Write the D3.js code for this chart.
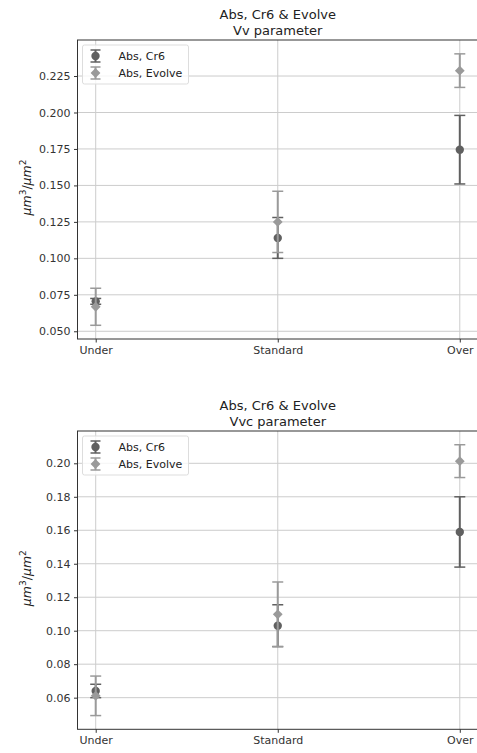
<!DOCTYPE html>
<html>
<head>
<meta charset="utf-8">
<script src="https://cdn.jsdelivr.net/npm/d3@7"></script>
<style>
  body { margin: 0; background: #fff; }
  svg { font-family: "DejaVu Sans", sans-serif; }
</style>
</head>
<body>
<script>
// categories and series
var categories = ["Under", "Standard", "Over"];
var seriesNames = ["Abs, Cr6", "Abs, Evolve"];

// Vv parameter
var vvCr6 = [0.0705, 0.114, 0.1745];
var vvCr6Err = [0.002, 0.014, 0.0235];
var vvEvolve = [0.0668, 0.125, 0.2287];
var vvEvolveErr = [0.0127, 0.021, 0.0115];
var vvTicks = [0.050, 0.075, 0.100, 0.125, 0.150, 0.175, 0.200, 0.225];

// Vvc parameter
var vvcCr6 = [0.064, 0.103, 0.159];
var vvcCr6Err = [0.004, 0.0125, 0.021];
var vvcEvolve = [0.0611, 0.1098, 0.2013];
var vvcEvolveErr = [0.0118, 0.0193, 0.0098];
var vvcTicks = [0.06, 0.08, 0.10, 0.12, 0.14, 0.16, 0.18, 0.20];

var W = 477, H = 753;
var colCr6 = "#606060", colEvolve = "#9a9a9a";
var circleSize = 55, diamondSize = 48;

var svg = d3.select("body").append("svg")
  .attr("width", W).attr("height", H);

function panel(opts) {
  var left = 77.5, right = 478, top = opts.top, bottom = opts.bottom;

  var x = d3.scaleLinear().domain([-0.1, 2.1]).range([left, right]);
  var y = d3.scaleLinear().domain(opts.yDomain).range([bottom, top]);

  var g = svg.append("g");

  // grid
  g.append("g").selectAll("line").data(opts.ticks).enter().append("line")
    .attr("x1", left).attr("x2", right)
    .attr("y1", d => y(d)).attr("y2", d => y(d))
    .attr("stroke", "#cccccc").attr("stroke-width", 1);
  g.append("g").selectAll("line").data(categories).enter().append("line")
    .attr("x1", (d, i) => x(i)).attr("x2", (d, i) => x(i))
    .attr("y1", top).attr("y2", bottom)
    .attr("stroke", "#cccccc").attr("stroke-width", 1);

  // axes
  var yAxis = d3.axisLeft(y).tickValues(opts.ticks)
    .tickFormat(d3.format(opts.fmt)).tickSize(3.5).tickPadding(3.5);
  var gy = g.append("g").attr("transform", "translate(" + left + ",0)").call(yAxis);
  var xAxis = d3.axisBottom(x).tickValues([0, 1, 2])
    .tickFormat(i => categories[i]).tickSize(3.5).tickPadding(3.5);
  var gx = g.append("g").attr("transform", "translate(0," + bottom + ")").call(xAxis);
  [gx, gy].forEach(function (a) {
    a.select(".domain").remove();
    a.selectAll("line").attr("stroke", "#333");
    a.selectAll("text").attr("fill", "#333").style("font-size", "11px")
      .style("font-family", "DejaVu Sans");
  });

  // frame
  g.append("rect").attr("x", left).attr("y", top)
    .attr("width", right - left).attr("height", bottom - top)
    .attr("fill", "none").attr("stroke", "#333").attr("stroke-width", 1);

  // errorbars
  function errorbars(vals, errs, col, shape) {
    var s = g.append("g");
    vals.forEach(function (v, i) {
      var cx = x(i);
      s.append("line").attr("x1", cx).attr("x2", cx)
        .attr("y1", y(v - errs[i])).attr("y2", y(v + errs[i]))
        .attr("stroke", col).attr("stroke-width", 2);
      [v - errs[i], v + errs[i]].forEach(function (e) {
        s.append("line").attr("x1", cx - 5.5).attr("x2", cx + 5.5)
          .attr("y1", y(e)).attr("y2", y(e))
          .attr("stroke", col).attr("stroke-width", 1.5);
      });
    });
    s.selectAll("path").data(vals).enter().append("path")
      .attr("d", d3.symbol().type(shape).size(shape === d3.symbolCircle ? circleSize : diamondSize))
      .attr("transform", (d, i) => "translate(" + x(i) + "," + y(d) + ")" +
        (shape === d3.symbolSquare ? " rotate(45)" : ""))
      .attr("fill", col);
  }
  errorbars(opts.cr6, opts.cr6Err, colCr6, d3.symbolCircle);
  errorbars(opts.evolve, opts.evolveErr, colEvolve, d3.symbolSquare);

  // title
  var tt = g.append("text").attr("text-anchor", "middle")
    .attr("x", (left + right) / 2).attr("fill", "#222").style("font-size", "13px");
  tt.append("tspan").attr("x", (left + right) / 2).attr("y", top - 21).text("Abs, Cr6 & Evolve");
  tt.append("tspan").attr("x", (left + right) / 2).attr("y", top - 5).text(opts.name + " parameter");

  // y label
  var yl = g.append("text")
    .attr("transform", "translate(31," + ((top + bottom) / 2 - 2) + ") rotate(-90)")
    .attr("text-anchor", "middle").attr("fill", "#222")
    .style("font-size", "12.5px").style("font-style", "italic");
  yl.append("tspan").text("μm");
  yl.append("tspan").attr("dy", -5).style("font-size", "9px").style("font-style", "normal").text("3");
  yl.append("tspan").attr("dy", 5).style("font-style", "normal").text("/");
  yl.append("tspan").text("μm");
  yl.append("tspan").attr("dy", -5).style("font-size", "9px").style("font-style", "normal").text("2");

  // legend
  var lg = g.append("g").attr("transform", "translate(" + (left + 5) + "," + (top + 5) + ")");
  lg.append("rect").attr("width", 106).attr("height", 39).attr("rx", 2)
    .attr("fill", "#fff").attr("fill-opacity", 0.8)
    .attr("stroke", "#dddddd");
  seriesNames.forEach(function (name, i) {
    var col = i === 0 ? colCr6 : colEvolve;
    var cy = 11 + i * 17, cx = 13;
    lg.append("line").attr("x1", cx).attr("x2", cx).attr("y1", cy - 6).attr("y2", cy + 6)
      .attr("stroke", col).attr("stroke-width", 2);
    [cy - 6, cy + 6].forEach(function (e) {
      lg.append("line").attr("x1", cx - 5).attr("x2", cx + 5).attr("y1", e).attr("y2", e)
        .attr("stroke", col).attr("stroke-width", 1.5);
    });
    lg.append("path")
      .attr("d", d3.symbol().type(i === 0 ? d3.symbolCircle : d3.symbolSquare).size(i === 0 ? circleSize : diamondSize))
      .attr("transform", "translate(" + cx + "," + cy + ")" + (i === 1 ? " rotate(45)" : ""))
      .attr("fill", col);
    lg.append("text").attr("x", 36).attr("y", cy + 4).attr("fill", "#222")
      .style("font-size", "11px").text(name);
  });
}

panel({ name: "Vv", top: 40, bottom: 339, yDomain: [0.0447, 0.2497], ticks: vvTicks, fmt: ".3f",
  cr6: vvCr6, cr6Err: vvCr6Err, evolve: vvEvolve, evolveErr: vvEvolveErr });
panel({ name: "Vvc", top: 431, bottom: 729.3, yDomain: [0.0411, 0.2193], ticks: vvcTicks, fmt: ".2f",
  cr6: vvcCr6, cr6Err: vvcCr6Err, evolve: vvcEvolve, evolveErr: vvcEvolveErr });
</script>
</body>
</html>
